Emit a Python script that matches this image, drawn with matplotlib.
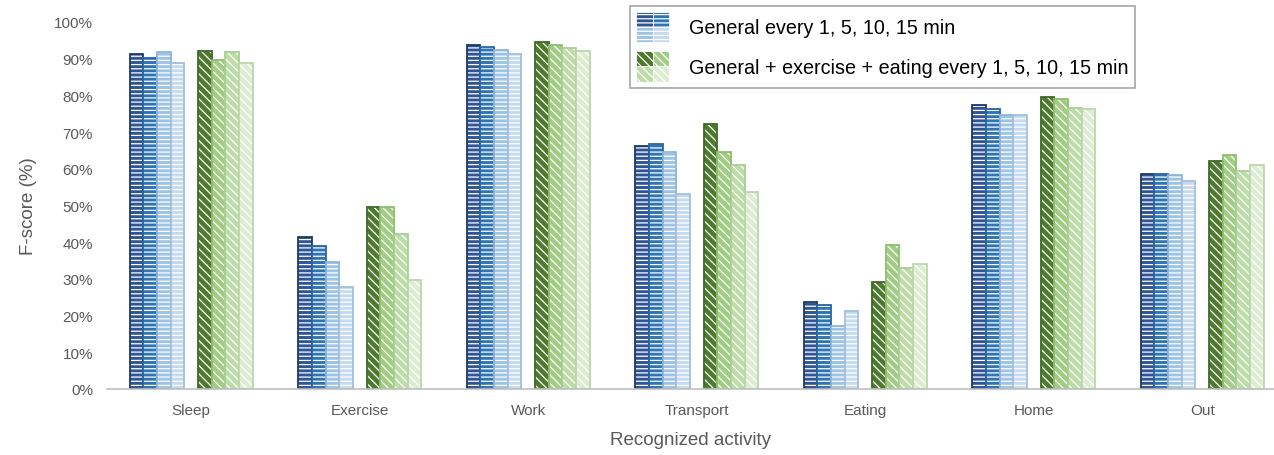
import numpy as np
import matplotlib.pyplot as plt
from matplotlib.patches import Patch, Rectangle

plt.rcParams['font.family'] = ['Liberation Sans', 'DejaVu Sans']
plt.rcParams['hatch.linewidth'] = 0.9

activities = ["Sleep", "Exercise", "Work", "Transport", "Eating", "Home", "Out"]
intervals = ["1 min", "5 min", "10 min", "15 min"]

# F-score (%) for the general model, one list per interval
general_1 = [91.3, 41.5, 93.8, 66.2, 23.6, 77.4, 58.6]
general_5 = [90.2, 38.9, 93.3, 66.8, 22.8, 76.2, 58.6]
general_10 = [91.8, 34.5, 92.3, 64.5, 17.1, 74.7, 58.3]
general_15 = [88.8, 27.8, 91.2, 53.0, 21.2, 74.7, 56.6]

# general + exercise + eating model
extended_1 = [92.2, 49.7, 94.5, 72.2, 29.1, 79.5, 62.1]
extended_5 = [89.6, 49.5, 93.8, 64.5, 39.2, 78.9, 63.8]
extended_10 = [91.8, 42.3, 92.9, 60.9, 32.9, 76.5, 59.3]
extended_15 = [88.8, 29.6, 92.2, 53.8, 34.1, 76.2, 61.0]

general = [general_1, general_5, general_10, general_15]
extended = [extended_1, extended_5, extended_10, extended_15]

blue_face = ['#2F5597', '#2E75B6', '#9DC3E6', '#C3DAF0']
blue_edge = ['#1F3864', '#2A66A0', '#8FB4DA', '#A4BFDC']
green_face = ['#4E7A30', '#A0CC84', '#BCDCA8', '#DDEDD2']
green_edge = ['#3D6B25', '#8DBF6E', '#AACF96', '#BDD6AE']
blue_hatch = '----'
green_hatch = '\\\\\\\\'


class QuadHandler:
    # draws the 4 patches of a tuple as a 2x2 swatch
    def legend_artist(self, legend, orig_handle, fontsize, handlebox):
        x0, y0 = -handlebox.xdescent, -handlebox.ydescent
        w, h = handlebox.width / 2, handlebox.height / 2
        for k, p in enumerate(orig_handle):
            col, row = k % 2, k // 2
            r = Rectangle((x0 + col * w, y0 + (1 - row) * h), w, h,
                          facecolor=p.get_facecolor(), edgecolor='white',
                          hatch=p.get_hatch(), linewidth=0.6,
                          transform=handlebox.get_transform())
            handlebox.add_artist(r)
        return r


fig = plt.figure(figsize=(12.74, 4.56), dpi=100)
ax = fig.add_axes([107 / 1274, 66 / 456, 1167 / 1274, 367 / 456])

x = np.arange(len(activities))
w = 0.081


def draw(vals, slot, face, edge, hatch):
    pos = x + (slot - 4) * w
    ax.bar(pos, vals, w, color=face, edgecolor='white', hatch=hatch, linewidth=0)
    ax.bar(pos, vals, w, fill=False, edgecolor=edge, linewidth=1.3)


for i in range(4):
    draw(general[i], i, blue_face[i], blue_edge[i], blue_hatch)
    draw(extended[i], i + 5, green_face[i], green_edge[i], green_hatch)

ax.set_xlim(-0.5, -0.5 + 1167 / 168.5)
ax.set_ylim(0, 100)
ax.set_yticks(np.arange(0, 101, 10))
ax.set_yticklabels([f"{t}%" for t in range(0, 101, 10)])
ax.set_xticks(x)
ax.set_xticklabels(activities)
ax.tick_params(length=0, labelsize=11, colors='#595959', pad=10)
ax.tick_params(axis='y', pad=10)

for s in ['top', 'right', 'left']:
    ax.spines[s].set_visible(False)
ax.spines['bottom'].set_color('#BFBFBF')
ax.spines['bottom'].set_linewidth(1.2)

ax.set_ylabel("F-score (%)", fontsize=13.5, color='#595959', labelpad=12)
ax.set_xlabel("Recognized activity", fontsize=13.5, color='#595959', labelpad=10)

h_gen = tuple(Patch(facecolor=blue_face[i], hatch=blue_hatch) for i in range(4))
h_ext = tuple(Patch(facecolor=green_face[i], hatch=green_hatch) for i in range(4))
leg = fig.legend([h_gen, h_ext],
                 ["General every 1, 5, 10, 15 min",
                  "General + exercise + eating every 1, 5, 10, 15 min"],
                 handler_map={tuple: QuadHandler()},
                 loc='upper left', bbox_to_anchor=(630 / 1274, 1 - 7 / 456),
                 fontsize=14.2, frameon=True, fancybox=False, framealpha=1,
                 edgecolor='#A6A6A6', handlelength=1.7, handleheight=2.0,
                 labelspacing=0.45, borderpad=0.3, handletextpad=1.0, borderaxespad=0)
leg.get_frame().set_linewidth(1.2)

fig.savefig("out.png", dpi=100)
